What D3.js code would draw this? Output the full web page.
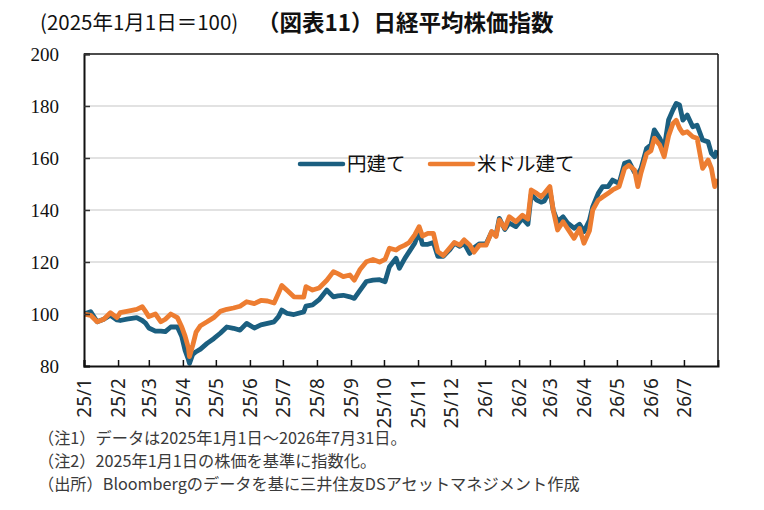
<!DOCTYPE html>
<html><head><meta charset="utf-8">
<script src="https://cdn.jsdelivr.net/npm/d3@7"></script>
<style>body{margin:0;background:#fff}svg{display:block}</style>
</head><body>
<script>
const dates = ["2025-01-01","2025-01-07","2025-01-13","2025-01-19","2025-01-25","2025-01-31","2025-02-03","2025-02-09","2025-02-18","2025-02-23","2025-02-26","2025-03-01","2025-03-07","2025-03-12","2025-03-16","2025-03-21","2025-03-27","2025-03-31","2025-04-03","2025-04-06","2025-04-07","2025-04-10","2025-04-13","2025-04-17","2025-04-23","2025-04-29","2025-05-05","2025-05-11","2025-05-17","2025-05-23","2025-05-29","2025-06-05","2025-06-11","2025-06-17","2025-06-23","2025-06-27","2025-06-30","2025-07-05","2025-07-11","2025-07-20","2025-07-22","2025-07-28","2025-08-03","2025-08-10","2025-08-16","2025-08-20","2025-08-25","2025-08-31","2025-09-04","2025-09-09","2025-09-15","2025-09-21","2025-09-27","2025-10-02","2025-10-06","2025-10-12","2025-10-15","2025-10-20","2025-10-24","2025-10-29","2025-11-02","2025-11-05","2025-11-10","2025-11-15","2025-11-19","2025-11-24","2025-11-30","2025-12-04","2025-12-09","2025-12-13","2025-12-18","2025-12-22","2025-12-27","2026-01-02","2026-01-07","2026-01-11","2026-01-14","2026-01-19","2026-01-23","2026-01-29","2026-02-04","2026-02-09","2026-02-12","2026-02-17","2026-02-21","2026-02-24","2026-03-01","2026-03-04","2026-03-08","2026-03-13","2026-03-17","2026-03-23","2026-03-28","2026-04-01","2026-04-06","2026-04-09","2026-04-14","2026-04-18","2026-04-23","2026-04-27","2026-05-03","2026-05-08","2026-05-12","2026-05-17","2026-05-20","2026-05-23","2026-05-28","2026-06-01","2026-06-04","2026-06-09","2026-06-13","2026-06-17","2026-06-21","2026-06-24","2026-06-27","2026-06-30","2026-07-04","2026-07-09","2026-07-13","2026-07-18","2026-07-23","2026-07-26","2026-07-29","2026-07-31"];
const jpy = [100,100.9,97,98,99.5,97.7,97.5,98,98.6,97.5,96.5,94.6,93.4,93.4,93.2,95,95,91.3,86,82.5,81,84.5,85.5,86.5,88.7,90.5,92.6,95,94.5,93.8,96.4,94.6,95.8,96.4,97,99,101.5,100.2,99.8,100.8,103,103.5,105.5,109.2,106.6,107,107.2,106.6,106,109,112.5,113,113.2,112.4,118.2,121.4,117.6,121.4,124,127.2,131.7,126.8,126.8,127.5,122.2,122.2,124.8,127.2,126,127.2,123.3,125.5,127,127,131.5,130.4,136.8,132.5,135,133.6,136.8,134.5,146,143.8,143,143.5,147.5,140,135.5,137.4,135,133,134.5,131.7,136,141.3,146.4,149,149,151.5,150.2,158,158.6,154.5,153.8,156,163.7,165,170.8,167.6,163.7,174.6,178.5,181,180.4,174.6,176.5,172,172.6,166.9,166.2,161.8,160.5,163];
const usd = [100,99.5,97,98,100.5,98.6,100.5,101,101.8,102.8,101,99,100,97,98,100,98.6,95,91.5,87,83.6,88,93,95.5,97,98.6,101,101.8,102.3,103,104.7,104,105.2,105,104.2,108,111,109,106.6,106.5,110.5,109.2,110,113,116.3,115.5,114.4,115,113,117,120.1,121,120,121,125.3,124.6,125.5,126.5,127.5,130.4,133.6,130,131,131,124,122.5,125.5,127.5,126.5,128.5,126.5,123.8,126.5,126.5,131.7,129.8,136.2,133,137.4,135.5,138,136.5,147.7,146.4,145.1,146.4,149,140,132.3,135.5,132.9,129.1,132.9,127.2,132,140,143.8,145,146.4,147.7,149,156,157.2,155.4,149,154.4,161.6,162.8,167.6,165,160.5,168.5,173.3,174.5,171.5,169.5,170.1,168.2,167.6,156,159.2,156,149,152];
const seriesNames = ["円建て","米ドル建て"];
const seriesColors = ["#1b5f80","#ed7d31"];
const yTicks = [80,100,120,140,160,180,200];
const monthTicks = ["2025-01-01","2025-02-01","2025-03-01","2025-04-01","2025-05-01","2025-06-01","2025-07-01","2025-08-01","2025-09-01","2025-10-01","2025-11-01","2025-12-01","2026-01-01","2026-02-01","2026-03-01","2026-04-01","2026-05-01","2026-06-01","2026-07-01"];
const subtitle = "(2025年1月1日＝100)";
const title = "（図表11）日経平均株価指数";
const notes = ["（注1）データは2025年1月1日～2026年7月31日。","（注2）2025年1月1日の株価を基準に指数化。","（出所）Bloombergのデータを基に三井住友DSアセットマネジメント作成"];

const W = 764, H = 510;
const m = {l:84, r:46, t:54, b:144};
const parse = d3.utcParse("%Y-%m-%d");
const fmt = d3.utcFormat("%y/%-m");
const cjk = "'Noto Sans CJK JP','Noto Sans',sans-serif";

const svg = d3.select("body").append("svg").attr("width",W).attr("height",H);
const x = d3.scaleUtc().domain([parse("2025-01-01"), parse("2026-08-01")]).range([m.l, W-m.r]);
const y = d3.scaleLinear().domain([80,200]).range([H-m.b, m.t]);

// gridlines
svg.append("g").selectAll("line").data(yTicks.filter(v=>v>80 && v<200)).join("line")
  .attr("x1", m.l).attr("x2", W-m.r).attr("y1", d=>y(d)).attr("y2", d=>y(d))
  .attr("stroke","#d9d9d9").attr("stroke-width",1.5);

// legend
const lg = svg.append("g");
const legX = [300, 430];
seriesNames.forEach((n,i)=>{
  lg.append("line").attr("x1",legX[i]).attr("x2",legX[i]+43).attr("y1",164).attr("y2",164)
    .attr("stroke",seriesColors[i]).attr("stroke-width",4.5).attr("stroke-linecap","round");
  lg.append("text").attr("x",legX[i]+47).attr("y",171).text(n)
    .attr("font-family",cjk).attr("font-size",19.5).attr("fill","#111");
});

// lines
const data = dates.map((d,i)=>({date:parse(d), j:jpy[i], u:usd[i]}));
svg.append("clipPath").attr("id","c").append("rect").attr("x",m.l).attr("y",m.t-2).attr("width",W-m.r-m.l).attr("height",H-m.b-m.t+4);
const g = svg.append("g").attr("clip-path","url(#c)");
["j","u"].forEach((k,i)=>{
  g.append("path").datum(data)
    .attr("d", d3.line().x(d=>x(d.date)).y(d=>y(d[k])))
    .attr("fill","none").attr("stroke",seriesColors[i]).attr("stroke-width",4.8).attr("stroke-linejoin","round");
});

// box
svg.append("line").attr("x1",m.l).attr("x2",W-m.r).attr("y1",m.t).attr("y2",m.t).attr("stroke","#111").attr("stroke-width",1.5);
svg.append("line").attr("x1",W-m.r).attr("x2",W-m.r).attr("y1",m.t).attr("y2",H-m.b).attr("stroke","#111").attr("stroke-width",1.5);

// y axis
const ya = svg.append("g").attr("transform",`translate(${m.l},0)`)
  .call(d3.axisRight(y).tickValues(yTicks).tickSize(6).tickFormat(d3.format("d")));
ya.select(".domain").attr("stroke","#111").attr("stroke-width",2);
ya.selectAll(".tick line").attr("stroke","#333").attr("stroke-width",1.5);
ya.selectAll(".tick text").attr("x",-25).attr("text-anchor","end")
  .attr("font-family","'Liberation Serif',serif").attr("font-size",19).attr("fill","#111");

// x axis
const xa = svg.append("g").attr("transform",`translate(0,${H-m.b})`)
  .call(d3.axisTop(x).tickValues(monthTicks.map(parse)).tickSize(6).tickFormat(fmt));
xa.select(".domain").attr("stroke","#111").attr("stroke-width",2);
xa.selectAll(".tick line").attr("stroke","#111").attr("stroke-width",1.5);
xa.selectAll(".tick text")
  .attr("transform","rotate(-90)").attr("x",-12).attr("y",0).attr("dy","0.35em")
  .attr("text-anchor","end").attr("font-family","'Noto Sans',sans-serif").attr("font-size",19).attr("fill","#222");

// titles
svg.append("text").attr("x",40).attr("y",30).text(subtitle)
  .attr("font-family",cjk).attr("font-size",20.5).attr("fill","#111");
svg.append("text").attr("x",257).attr("y",31).text(title)
  .attr("font-family",cjk).attr("font-size",22.5).attr("font-weight","bold").attr("fill","#111");

// notes
notes.forEach((t,i)=>{
  svg.append("text").attr("x",38).attr("y",444+i*23).text(t)
    .attr("font-family",cjk).attr("font-size",16.2).attr("fill","#3a3a3a");
});
</script>
</body></html>
